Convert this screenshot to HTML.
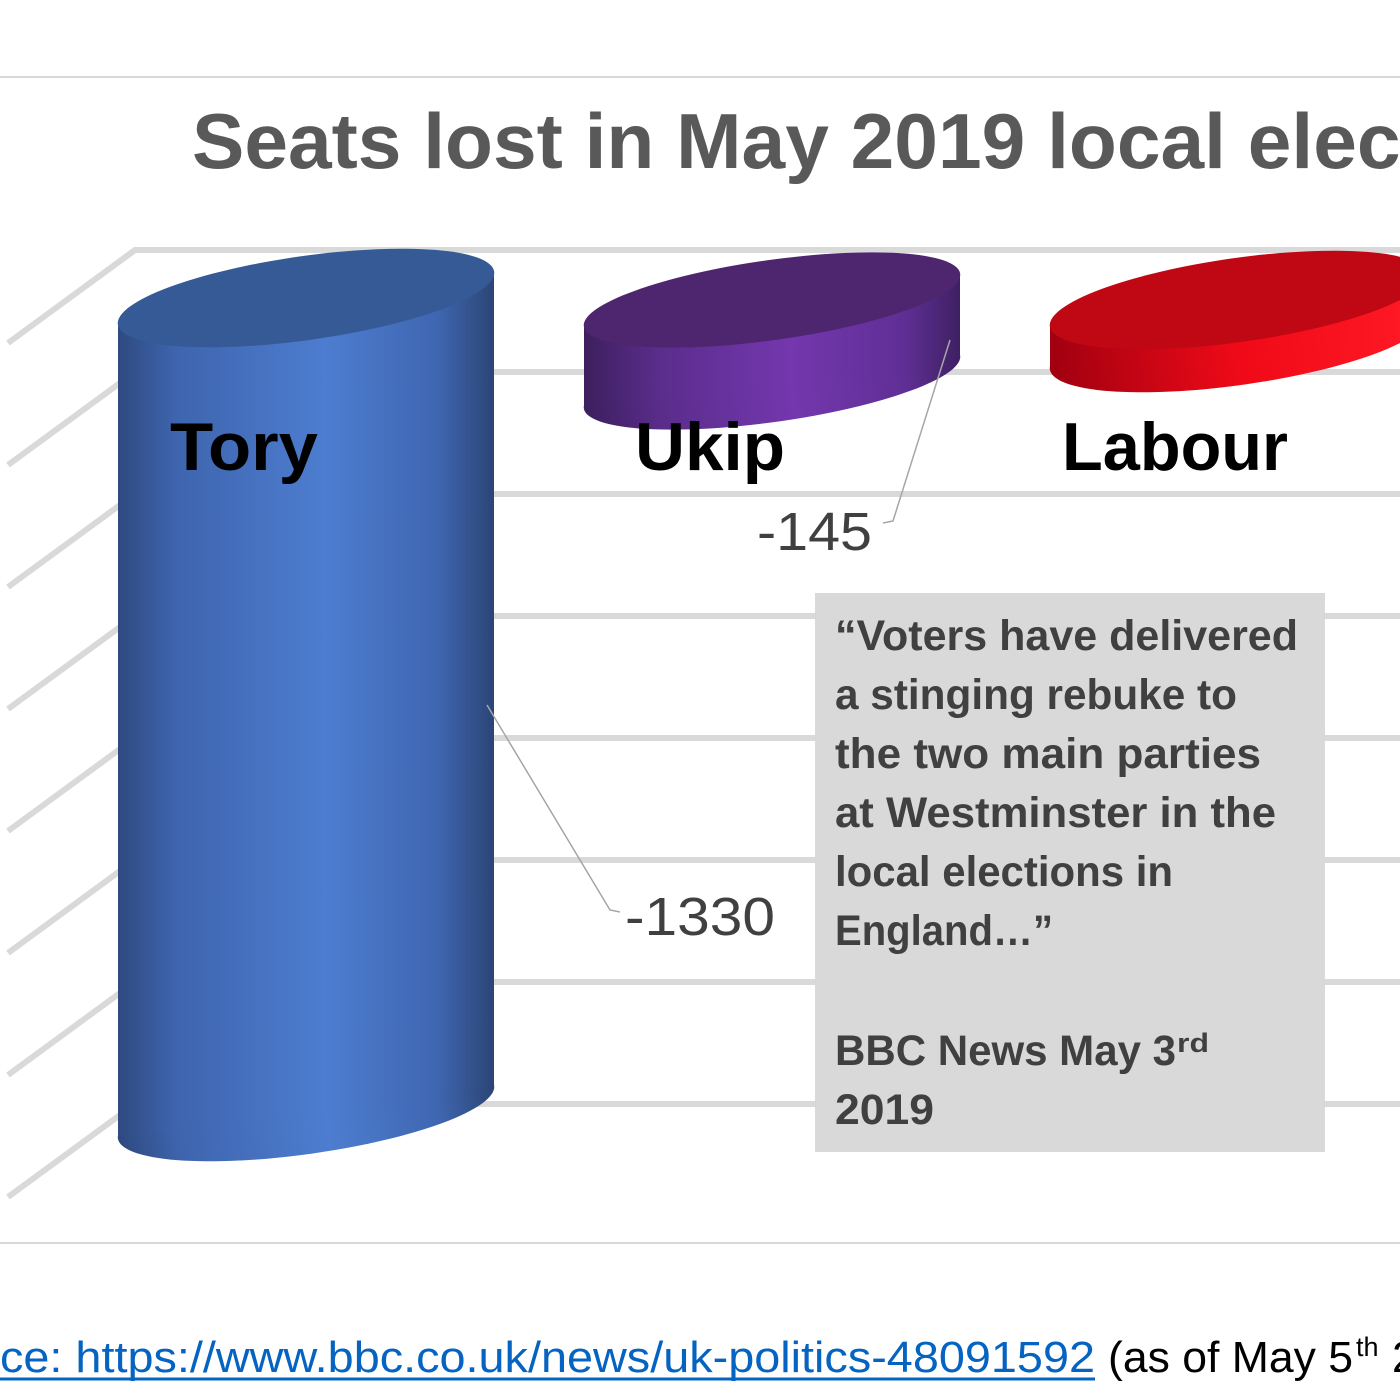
<!DOCTYPE html>
<html><head><style>html,body{margin:0;padding:0;background:#fff;width:1400px;height:1400px;overflow:hidden}</style></head>
<body>
<svg width="1400" height="1400" viewBox="0 0 1400 1400" xmlns="http://www.w3.org/2000/svg" font-family="Liberation Sans, sans-serif">
<defs>
<linearGradient id="gb" gradientUnits="userSpaceOnUse" x1="118" x2="494" y1="0" y2="0">
<stop offset="0" stop-color="#2e4a80"/><stop offset="0.15" stop-color="#3e64ad"/><stop offset="0.55" stop-color="#4d7dd0"/><stop offset="0.85" stop-color="#3f66b0"/><stop offset="1" stop-color="#2b4576"/></linearGradient>
<linearGradient id="gp" gradientUnits="userSpaceOnUse" x1="584" x2="960" y1="0" y2="0">
<stop offset="0" stop-color="#3d1f5e"/><stop offset="0.2" stop-color="#5a2d8c"/><stop offset="0.55" stop-color="#7437ae"/><stop offset="0.85" stop-color="#5f2f95"/><stop offset="1" stop-color="#3f2063"/></linearGradient>
<linearGradient id="gr" gradientUnits="userSpaceOnUse" x1="1050" x2="1426" y1="0" y2="0">
<stop offset="0" stop-color="#a00010"/><stop offset="0.5" stop-color="#f00a18"/><stop offset="1" stop-color="#ff1a25"/></linearGradient>
</defs>
<line x1="0" y1="77" x2="1400" y2="77" stroke="#d9d9d9" stroke-width="2"/>
<line x1="0" y1="1243" x2="1400" y2="1243" stroke="#d9d9d9" stroke-width="2"/>
<text x="192" y="168" font-size="78" font-weight="bold" fill="#595959" textLength="1396" lengthAdjust="spacingAndGlyphs">Seats lost in May 2019 local elections</text>
<g stroke="#d9d9d9" stroke-width="6" fill="none">
<path d="M8 343 L135 250 H1400"/>
<path d="M8 465 L135 372 H1400"/>
<path d="M8 587 L135 494 H1400"/>
<path d="M8 709 L135 616 H1400"/>
<path d="M8 831 L135 738 H1400"/>
<path d="M8 953 L135 860 H1400"/>
<path d="M8 1075 L135 982 H1400"/>
<path d="M8 1197 L135 1104 H1400"/>
</g>
<ellipse cx="306" cy="1112" rx="190" ry="42" transform="rotate(-8 306 1112)" fill="url(#gb)"/>
<polygon points="118,323 494,273 494,1087 118,1137" fill="url(#gb)"/>
<ellipse cx="306" cy="298" rx="190" ry="42" transform="rotate(-8 306 298)" fill="#355a96"/>
<ellipse cx="772" cy="382" rx="190" ry="40" transform="rotate(-8 772 382)" fill="url(#gp)"/>
<polygon points="584,325 960,275 960,357 584,407" fill="url(#gp)"/>
<ellipse cx="772" cy="300" rx="190" ry="40" transform="rotate(-8 772 300)" fill="#4e266f"/>
<ellipse cx="1238" cy="343" rx="190" ry="42" transform="rotate(-8 1238 343)" fill="url(#gr)"/>
<polygon points="1050,325 1426,275 1426,318 1050,368" fill="url(#gr)"/>
<ellipse cx="1238" cy="300" rx="190" ry="42" transform="rotate(-8 1238 300)" fill="#c00815"/>
<g font-weight="bold" font-size="68" fill="#000">
<text x="170" y="470" textLength="148" lengthAdjust="spacingAndGlyphs">Tory</text>
<text x="635" y="470" textLength="150" lengthAdjust="spacingAndGlyphs">Ukip</text>
<text x="1062" y="470" textLength="226" lengthAdjust="spacingAndGlyphs">Labour</text>
</g>
<g stroke="#a6a6a6" stroke-width="1.5" fill="none">
<path d="M487 705 L610 910 L620 912"/>
<path d="M950 340 L893 521 L883 523"/>
</g>
<text x="757" y="550" font-size="54" fill="#404040" textLength="115" lengthAdjust="spacingAndGlyphs">-145</text>
<text x="625" y="935" font-size="54" fill="#404040" textLength="150" lengthAdjust="spacingAndGlyphs">-1330</text>
<rect x="815" y="593" width="510" height="559" fill="#d9d9d9"/>
<g font-weight="bold" font-size="43" fill="#404040">
<text x="835" y="650" textLength="463" lengthAdjust="spacingAndGlyphs">“Voters have delivered</text>
<text x="835" y="709" textLength="402" lengthAdjust="spacingAndGlyphs">a stinging rebuke to</text>
<text x="835" y="768" textLength="426" lengthAdjust="spacingAndGlyphs">the two main parties</text>
<text x="835" y="827" textLength="441" lengthAdjust="spacingAndGlyphs">at Westminster in the</text>
<text x="835" y="886" textLength="338" lengthAdjust="spacingAndGlyphs">local elections in</text>
<text x="835" y="945" textLength="218" lengthAdjust="spacingAndGlyphs">England…”</text>
<text x="835" y="1065" textLength="341" lengthAdjust="spacingAndGlyphs">BBC News May 3</text>
<text x="1177" y="1052" font-size="27" textLength="32" lengthAdjust="spacingAndGlyphs">rd</text>
<text x="835" y="1124" textLength="99" lengthAdjust="spacingAndGlyphs">2019</text>
</g>
<text x="0" y="1372" font-size="44" fill="#0563c1" textLength="1095" lengthAdjust="spacingAndGlyphs">ce: https://www.bbc.co.uk/news/uk-politics-48091592</text>
<line x1="0" y1="1379" x2="1095" y2="1379" stroke="#0563c1" stroke-width="3"/>
<text x="1108" y="1372" font-size="44" fill="#000" textLength="245" lengthAdjust="spacingAndGlyphs">(as of May 5</text>
<text x="1356" y="1356" font-size="27" fill="#000">th</text>
<text x="1392" y="1372" font-size="44" fill="#000">2</text>
</svg>
</body></html>
